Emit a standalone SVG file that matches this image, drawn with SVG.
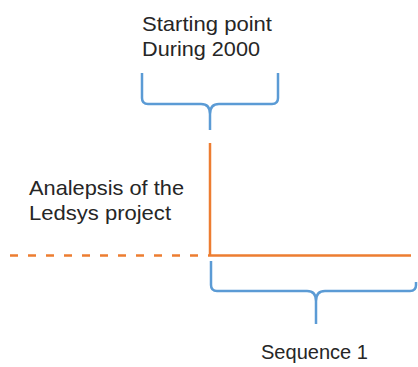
<svg xmlns="http://www.w3.org/2000/svg" width="418" height="367" viewBox="0 0 418 367">
<style>
.t{font-family:"Liberation Sans",Arial,sans-serif;font-size:21px;fill:#262626}
.o{stroke:#ED7D31;stroke-width:2.5;fill:none}
.b{stroke:#5B9BD5;stroke-width:2.5;fill:none;stroke-linejoin:round}
</style>
<rect width="418" height="367" fill="#fff"/>
<g id="connectors">
<line class="o" x1="210" y1="143" x2="210" y2="256"/>
<line class="o" x1="210" y1="255.5" x2="411" y2="255.5"/>
<line class="o" x1="10" y1="255.5" x2="210" y2="255.5" stroke-dasharray="8,10"/>
</g>
<g id="brace-top">
<path class="b" d="M142,73 L142,98 Q142,104 148,104 L201,104 Q210,104 210,114 L210,130 M210,114 Q210,104 219,104 L272,104 Q278,104 278,98 L278,73"/>
</g>
<g id="brace-bottom">
<path class="b" d="M211,261 L211,285 Q211,291 217,291 L307,291 Q316,291 316,301 L316,324 M316,301 Q316,291 325,291 L410,291 Q416,291 416,285 L416,282"/>
</g>
<g id="label-start">
<text class="t" x="142" y="31" textLength="130" lengthAdjust="spacingAndGlyphs">Starting point</text>
<text class="t" x="142" y="56" textLength="118" lengthAdjust="spacingAndGlyphs">During 2000</text>
</g>
<g id="label-analepsis">
<text class="t" x="29" y="195" textLength="155" lengthAdjust="spacingAndGlyphs">Analepsis of the</text>
<text class="t" x="29" y="220" textLength="142" lengthAdjust="spacingAndGlyphs">Ledsys project</text>
</g>
<g id="label-seq">
<text class="t" x="261" y="359" textLength="107" lengthAdjust="spacingAndGlyphs">Sequence 1</text>
</g>
</svg>
